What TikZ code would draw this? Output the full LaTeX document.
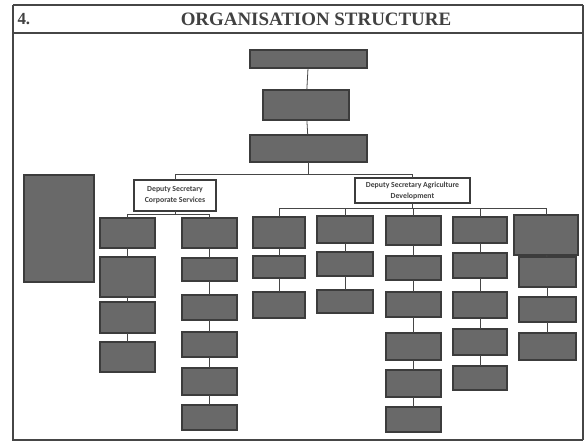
\documentclass[tikz,border=0pt]{standalone}
\usepackage{fontspec}
\setmainfont{Liberation Serif}
\newfontfamily\boxfont{Carlito}
\definecolor{framec}{RGB}{70,70,70}
\definecolor{boxfill}{RGB}{105,105,105}
\definecolor{boxline}{RGB}{60,60,60}
\definecolor{textc}{RGB}{65,65,65}
\tikzset{
  gbox/.style={draw=boxline, fill=boxfill, line width=1.3pt, inner sep=0pt, outer sep=0pt},
  wbox/.style={draw=boxline, fill=white, line width=1.3pt, inner sep=0pt, outer sep=0pt,
    align=center, font=\boxfont\bfseries\fontsize{7.8}{11}\selectfont, text=textc},
  link/.style={draw=framec, line width=0.8pt},
  frame/.style={draw=framec, line width=1.2pt}
}
\newcommand\gb[5]{\node[gbox, minimum width={(#4-#2)*1bp}, minimum height={(#5-#3)*1bp}] (#1) at ({(#2+#4)/2},{(#3+#5)/2}) {};}
\begin{document}
\begin{tikzpicture}[x=1bp,y=-1bp]
\useasboundingbox (0,0) rectangle (585,443);
% frame
\draw[frame] (13,5) -- (583,5);
\draw[frame] (13,5) -- (13,440) -- (583,440);
\draw[frame] (583,5) -- (583,440);
\draw[frame] (13,33) -- (583,33);
\node[font=\bfseries\fontsize{17}{20}\selectfont, text=textc, anchor=west] (num) at (14,19) {4.};
\node[font=\bfseries\fontsize{19}{22}\selectfont, text=textc] (title) at (316,19) {ORGANISATION STRUCTURE};
% top chain
\gb{t1}{250}{50}{367}{68}
\gb{t2}{263}{90}{349}{120}
\gb{t3}{250}{135}{367}{162}
\draw[link] (t1) -- (t2);
\draw[link] (t2) -- (t3);
% deputy secretaries
\node[wbox, minimum width=82bp, minimum height=31bp] (cs) at (175,195.5) {Deputy Secretary\\Corporate Services};
\node[wbox, minimum width=115bp, minimum height=25bp] (ad) at (412.5,190.5) {Deputy Secretary Agriculture\\Development};
\coordinate (bus) at (t3.south |- 0,174);
\draw[link] (t3.south) -- (bus);
\draw[link] (bus) -| (cs.north);
\draw[link] (bus) -| (ad.north);
% left tall box
\gb{lt}{24}{175}{94}{282}
% corporate services columns
\gb{c1a}{100}{218}{155}{248}
\gb{c1b}{100}{257}{155}{297}
\gb{c1c}{100}{302}{155}{333}
\gb{c1d}{100}{342}{155}{372}
\gb{c2a}{182}{218}{237}{248}
\gb{c2b}{182}{258}{237}{281}
\gb{c2c}{182}{295}{237}{320}
\gb{c2d}{182}{332}{237}{357}
\gb{c2e}{182}{368}{237}{395}
\gb{c2f}{182}{405}{237}{430}
\coordinate (csbus) at (cs.south |- 0,214);
\draw[link] (cs.south) -- (csbus);
\draw[link] (csbus) -| (c1a.north);
\draw[link] (csbus) -| (c2a.north);
\draw[link] (c1a) -- (c1b); \draw[link] (c1b) -- (c1c); \draw[link] (c1c) -- (c1d);
\draw[link] (c2a) -- (c2b); \draw[link] (c2b) -- (c2c); \draw[link] (c2c) -- (c2d);
\draw[link] (c2d) -- (c2e); \draw[link] (c2e) -- (c2f);
% agriculture development columns
\gb{a1a}{253}{217}{305}{248}
\gb{a1b}{253}{256}{305}{278}
\gb{a1c}{253}{292}{305}{318}
\gb{a2a}{317}{216}{373}{243}
\gb{a2b}{317}{252}{373}{276}
\gb{a2c}{317}{290}{373}{313}
\gb{a3a}{386}{216}{441}{245}
\gb{a3b}{386}{256}{441}{280}
\gb{a3c}{386}{292}{441}{317}
\gb{a3d}{386}{333}{441}{360}
\gb{a3e}{386}{370}{441}{397}
\gb{a3f}{386}{407}{441}{432}
\gb{a4a}{453}{217}{507}{243}
\gb{a4b}{453}{253}{507}{278}
\gb{a4c}{453}{292}{507}{318}
\gb{a4d}{453}{329}{507}{355}
\gb{a4e}{453}{366}{507}{390}
\gb{a5a}{514}{215}{578}{255}
\gb{a5b}{519}{257}{576}{287}
\gb{a5c}{519}{297}{576}{322}
\gb{a5d}{519}{333}{576}{360}
\coordinate (adbus) at (ad.south |- 0,208);
\draw[link] (ad.south) -- (adbus);
\foreach \n in {a1a,a2a,a3a,a4a,a5a} { \draw[link] (adbus) -| (\n.north); }
\draw[link] (a1a) -- (a1b); \draw[link] (a1b) -- (a1c);
\draw[link] (a2a) -- (a2b); \draw[link] (a2b) -- (a2c);
\draw[link] (a3a) -- (a3b); \draw[link] (a3b) -- (a3c); \draw[link] (a3c) -- (a3d);
\draw[link] (a3d) -- (a3e); \draw[link] (a3e) -- (a3f);
\draw[link] (a4a) -- (a4b); \draw[link] (a4b) -- (a4c); \draw[link] (a4c) -- (a4d); \draw[link] (a4d) -- (a4e);
\draw[link] (a5a) -- (a5b); \draw[link] (a5b) -- (a5c); \draw[link] (a5c) -- (a5d);
\end{tikzpicture}
\end{document}
